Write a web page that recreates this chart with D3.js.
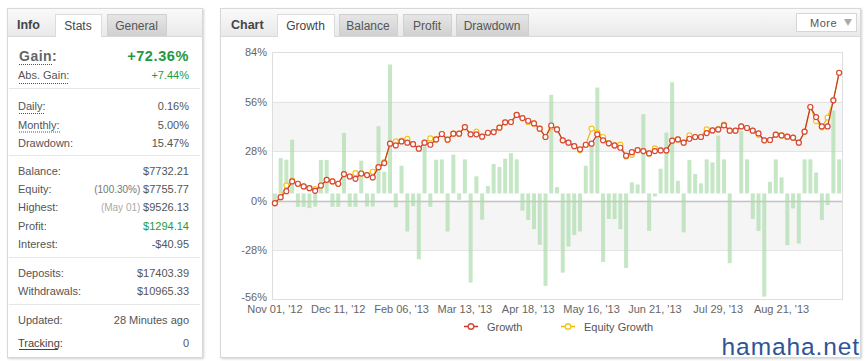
<!DOCTYPE html>
<html><head><meta charset="utf-8">
<script src="https://cdn.jsdelivr.net/npm/d3@7"></script>
<style>
html,body{margin:0;padding:0;background:#fff;}
svg{display:block;font-family:"Liberation Sans",Arial,sans-serif;}
</style></head>
<body>
<svg id="c" width="866" height="361"></svg>
<script>
// ---------- data ----------
const growth = [-1.5,1.9,5.3,10.8,9.5,8.0,7.0,5.5,8.5,11.7,10.8,9.5,15.0,13.6,12.3,15.3,14.4,13.1,18.9,21.2,
32.2,31.2,33.5,32.8,31.9,29.4,32.8,31.6,34.6,37.7,34.5,37.9,37.9,41.6,37.5,37.5,36.2,38.4,38.8,41.3,
44.3,44.5,48.5,46.7,45.2,43.7,40.7,36.0,42.5,40.3,34.1,32.8,30.8,29.0,31.6,32.2,37.5,34.1,32.4,31.2,
29.9,25.4,27.4,28.6,28.0,26.7,28.0,28.4,28.4,33.9,34.6,32.8,35.0,36.0,36.0,38.2,39.7,40.3,42.6,39.6,
39.6,42.0,41.1,39.6,38.0,34.1,34.3,37.3,36.9,36.2,35.6,32.8,39.0,53.0,47.3,42.0,42.0,56.8,72.4];
const equity = [-1.5,1.9,8.6,11.3,9.5,8.0,7.0,6.4,8.5,11.7,10.8,9.5,15.0,13.6,15.5,15.3,14.4,16.3,18.9,21.8,
32.2,33.5,34.0,34.9,31.9,29.4,32.8,35.2,34.6,37.7,34.5,37.9,37.9,41.6,37.5,39.0,36.2,38.4,38.8,41.3,
44.3,44.5,48.5,46.7,44.5,43.7,40.7,36.0,41.5,40.3,34.1,32.8,30.8,28.6,31.6,40.7,38.5,36.0,32.4,31.2,
31.7,25.0,25.9,28.6,28.0,26.7,29.6,28.4,28.4,33.9,34.6,32.8,36.9,36.0,36.0,40.3,39.7,40.3,43.0,39.6,
39.6,42.0,41.1,39.6,37.2,34.1,34.3,37.3,36.9,36.2,35.6,32.8,39.0,53.0,45.0,41.5,47.0,56.8,72.4];
const daily = [-3.8,20.1,19.1,30.5,-7.6,-7.6,-8.3,-7.4,19.0,19.0,-7.6,-7.6,34.3,-7.6,-7.6,18.6,-7.4,-7.4,38.1,12.3,
73.1,-7.9,15.7,-21.6,-7.2,-37.3,26.7,-7.6,19.1,19.3,-21.6,22.0,-3.6,19.3,-50.5,9.7,-14.9,4.2,16.7,15.0,
19.7,22.9,19.3,-9.8,-15.1,-20.2,-29.1,-52.4,55.9,3.6,-44.9,-30.1,-23.6,-21.6,15.7,27.0,60.0,-38.8,-14.5,-14.5,
-20.2,-42.2,6.3,5.1,44.9,-21.2,-1.7,14.0,34.5,63.0,7.2,-22.1,19.0,11.0,5.7,19.3,17.6,32.8,19.3,-39.5,
0,35.4,19.3,-14.5,-21.2,-58.5,6.6,19.3,9.1,-29.3,-8.5,-28.4,19.3,19.3,11.9,-15.1,-6.6,47.0,19.3];
const xTickLabels = ["Nov 01, '12","Dec 11, '12","Feb 06, '13","Mar 13, '13","Apr 18, '13","May 16, '13","Jun 21, '13","Jul 29, '13","Aug 21, '13"];
const yTicks = [-56,-28,0,28,56,84];
const infoRows1 = [["Daily:","0.16%",true],["Monthly:","5.00%",true],["Drawdown:","15.47%",false]];
const infoRows2 = [["Balance:","","$7732.21"],["Equity:","(100.30%) ","$7755.77"],["Highest:","(May 01) ","$9526.13"],["Profit:","","$1294.14"],["Interest:","","-$40.95"]];
const infoRows3 = [["Deposits:","$17403.39"],["Withdrawals:","$10965.33"]];
const chartTabs = ["Growth","Balance","Profit","Drawdown"];
const infoTabs = ["Stats","General"];

// ---------- drawing ----------
const svg = d3.select("#c");
const defs = svg.append("defs");
const g1 = defs.append("linearGradient").attr("id","hdr").attr("x1",0).attr("y1",0).attr("x2",0).attr("y2",1);
g1.append("stop").attr("offset","0%").attr("stop-color","#fafafa");
g1.append("stop").attr("offset","100%").attr("stop-color","#e9e9e9");
const g2 = defs.append("linearGradient").attr("id","tab").attr("x1",0).attr("y1",0).attr("x2",0).attr("y2",1);
g2.append("stop").attr("offset","0%").attr("stop-color","#e6e6e6");
g2.append("stop").attr("offset","100%").attr("stop-color","#d1d1d1");
const flt = defs.append("filter").attr("id","sh").attr("x","-5%").attr("y","-5%").attr("width","110%").attr("height","110%");
flt.append("feDropShadow").attr("dx",1).attr("dy",1).attr("stdDeviation",1.2).attr("flood-color","#000").attr("flood-opacity",0.18);

function panel(x,y,w,h){
  svg.append("rect").attr("x",x+0.5).attr("y",y+0.5).attr("width",w).attr("height",h)
    .attr("fill","#fff").attr("stroke","#d8d8d8").attr("filter","url(#sh)");
  svg.append("rect").attr("x",x+1).attr("y",y+1).attr("width",w-1).attr("height",27).attr("fill","url(#hdr)");
  svg.append("line").attr("x1",x+1).attr("x2",x+w).attr("y1",y+28.5).attr("y2",y+28.5).attr("stroke","#dadada");
}
function tab(x,w,label,active){
  svg.append("rect").attr("x",x+0.5).attr("y",14.5).attr("width",w).attr("height",active?22:21)
    .attr("fill",active?"#fff":"url(#tab)").attr("stroke",active?"#dcdcdc":"#d0d0d0");
  if(active) svg.append("line").attr("x1",x+1).attr("x2",x+w).attr("y1",36.5).attr("y2",36.5).attr("stroke","#fff").attr("stroke-width",1.5);
  svg.append("text").attr("x",x+w/2).attr("y",30).attr("text-anchor","middle")
    .attr("font-size",12).attr("fill",active?"#444":"#555").text(label);
}

// left panel
panel(7,8,195,349);
svg.append("text").attr("x",17).attr("y",29).attr("font-size",12.5).attr("font-weight","bold").attr("fill","#444").text("Info");
tab(55,46,infoTabs[0],true);
tab(107,59,infoTabs[1],false);

const L = 18, R = 189;
function dotted(x1,x2,y){
  svg.append("line").attr("x1",x1).attr("x2",x2).attr("y1",y+0.5).attr("y2",y+0.5)
    .attr("stroke","#555").attr("stroke-dasharray","1,1");
}
function sep(y){ svg.append("line").attr("x1",9).attr("x2",200).attr("y1",y+0.5).attr("y2",y+0.5).attr("stroke","#e6e6e6"); }
svg.append("text").attr("x",L+1).attr("y",61).attr("font-size",14).attr("font-weight","bold").attr("fill","#666").attr("letter-spacing",0.5).text("Gain:");
dotted(19,53,64);
svg.append("text").attr("x",R).attr("y",61).attr("text-anchor","end").attr("font-size",14.5).attr("font-weight","bold").attr("fill","#1f9a3e").attr("letter-spacing",0.6).text("+72.36%");
svg.append("text").attr("x",L).attr("y",79).attr("font-size",11).attr("fill","#555").text("Abs. Gain:");
dotted(19,69,83);
svg.append("text").attr("x",R).attr("y",79).attr("text-anchor","end").attr("font-size",11).attr("fill","#1f9a3e").text("+7.44%");
sep(88);
infoRows1.forEach((r,i)=>{
  const y = 110 + i*18.5;
  svg.append("text").attr("x",L).attr("y",y).attr("font-size",11).attr("fill","#555").text(r[0]);
  svg.append("text").attr("x",R).attr("y",y).attr("text-anchor","end").attr("font-size",11).attr("fill","#555").text(r[1]);
  if(r[2]) dotted(19, i===0?45:60, y+3);
});
sep(155);
infoRows2.forEach((r,i)=>{
  const y = 175 + i*18.2;
  svg.append("text").attr("x",L).attr("y",y).attr("font-size",11).attr("fill","#555").text(r[0]);
  const t = svg.append("text").attr("x",R).attr("y",y).attr("text-anchor","end").attr("font-size",11);
  if(r[1]) t.append("tspan").attr("fill",i===2?"#aaa":"#777").attr("font-size",10).text(r[1]);
  t.append("tspan").attr("fill",r[0]==="Profit:"?"#1f9a3e":"#555").text(r[2]);
});
sep(257);
infoRows3.forEach((r,i)=>{
  const y = 277 + i*17.5;
  svg.append("text").attr("x",L).attr("y",y).attr("font-size",11).attr("fill","#555").text(r[0]);
  svg.append("text").attr("x",R).attr("y",y).attr("text-anchor","end").attr("font-size",11).attr("fill","#555").text(r[1]);
});
sep(304);
svg.append("text").attr("x",L).attr("y",324).attr("font-size",11).attr("fill","#555").text("Updated:");
svg.append("text").attr("x",R).attr("y",324).attr("text-anchor","end").attr("font-size",11).attr("fill","#555").text("28 Minutes ago");
svg.append("text").attr("x",L).attr("y",347).attr("font-size",11).attr("fill","#444").text("Tracking:");
svg.append("line").attr("x1",19).attr("x2",58).attr("y1",349.5).attr("y2",349.5).attr("stroke","#444");
svg.append("text").attr("x",R).attr("y",347).attr("text-anchor","end").attr("font-size",11).attr("fill","#555").text("0");

// right panel
panel(220,8,640,349);
svg.append("text").attr("x",231).attr("y",29).attr("font-size",12.5).attr("font-weight","bold").attr("fill","#444").text("Chart");
const tabX = [277,339,403,456], tabW=[57,58,48,72];
chartTabs.forEach((t,i)=>tab(tabX[i],tabW[i],t,i===0));
// More button
svg.append("rect").attr("x",796.5).attr("y",13.5).attr("width",60).attr("height",18).attr("fill","#fff").attr("stroke","#d6d6d6");
svg.append("text").attr("x",810).attr("y",26.5).attr("font-size",11).attr("fill","#555").attr("letter-spacing",0.5).text("More");
svg.append("path").attr("d","M844,19 L852,19 L848,26 Z").attr("fill","#aaa");

// plot
const x0=272, x1=842, yTop=52.3, yBot=299.3;
const x = d3.scaleBand().domain(d3.range(growth.length)).range([x0,x1]);
const cx = i => x(i)+x.bandwidth()/2;
const y = d3.scaleLinear().domain([-56,84]).range([yBot,yTop]);
const yb = d3.scaleLinear().domain([-60,80]).range([yBot,yTop]);
const plot = svg.append("g");
// bands
[[56,28],[0,-28]].forEach(b=>{
  plot.append("rect").attr("x",x0).attr("width",x1-x0).attr("y",y(b[0])).attr("height",y(b[1])-y(b[0])).attr("fill","#f5f5f5");
});
yTicks.forEach(v=>{
  plot.append("line").attr("x1",x0).attr("x2",x1).attr("y1",Math.round(y(v))+0.5).attr("y2",Math.round(y(v))+0.5)
    .attr("stroke",v===0?"#c4c4c4":"#e4e4e4").attr("stroke-width",v===0?1.5:1);
});
plot.append("rect").attr("x",x0+0.5).attr("y",Math.round(yTop)+0.5).attr("width",x1-x0).attr("height",Math.round(yBot)-Math.round(yTop))
  .attr("fill","none").attr("stroke","#dedede");
// bars
const bw = 4;
plot.selectAll("rect.bar").data(daily).join("rect").attr("class","bar")
  .attr("x",(d,i)=>cx(i)-bw/2).attr("width",bw)
  .attr("y",d=>Math.min(yb(d),yb(0))).attr("height",d=>Math.abs(yb(d)-yb(0)))
  .attr("fill","#a9dba9").attr("fill-opacity",0.68);
// lines
const line = d3.line().x((d,i)=>cx(i)).y(d=>y(d));
plot.append("path").datum(equity).attr("d",line).attr("fill","none").attr("stroke","#f4b400").attr("stroke-width",1.2);
plot.selectAll("circle.eq").data(equity).join("circle").attr("class","eq")
  .attr("cx",(d,i)=>cx(i)).attr("cy",d=>y(d)).attr("r",2.5).attr("fill","#fff").attr("stroke","#f5c518").attr("stroke-width",1.2);
plot.append("path").datum(growth).attr("d",line).attr("fill","none").attr("stroke","#c0392b").attr("stroke-width",1.2);
plot.selectAll("circle.gr").data(growth).join("circle").attr("class","gr")
  .attr("cx",(d,i)=>cx(i)).attr("cy",d=>y(d)).attr("r",2.5).attr("fill","#fff").attr("stroke","#d9473a").attr("stroke-width",1.2);

// axes
const ya = svg.append("g").attr("transform",`translate(${x0},0)`)
  .call(d3.axisLeft(y).tickValues(yTicks).tickSize(0).tickPadding(5).tickFormat(d=>d+"%"));
ya.select(".domain").remove();
ya.selectAll("text").attr("font-size",11).attr("fill","#666").attr("font-family","Liberation Sans, Arial, sans-serif")
  .attr("dy",d=>d===-56?"0.1em":"0.32em");
const xTickIdx = xTickLabels.map((_,k)=>k*11);
const xa = svg.append("g").attr("transform",`translate(0,${yBot})`)
  .call(d3.axisBottom(x).tickValues(xTickIdx).tickSize(0).tickPadding(6).tickFormat(i=>xTickLabels[i/11]));
xa.select(".domain").remove();
xa.selectAll("text").attr("font-size",11).attr("fill","#666").attr("font-family","Liberation Sans, Arial, sans-serif");

// legend
function legItem(lx, color, stroke, label){
  svg.append("line").attr("x1",lx).attr("x2",lx+14).attr("y1",326.5).attr("y2",326.5).attr("stroke",color).attr("stroke-width",1.5);
  svg.append("circle").attr("cx",lx+7).attr("cy",326.5).attr("r",2.8).attr("fill","#fff").attr("stroke",stroke).attr("stroke-width",1.4);
  svg.append("text").attr("x",lx+23).attr("y",330.5).attr("font-size",11).attr("fill","#555").text(label);
}
legItem(464,"#c0392b","#d9473a","Growth");
legItem(561,"#f4b400","#f5c518","Equity Growth");

// watermark
svg.append("text").attr("x",860).attr("y",355).attr("text-anchor","end").attr("font-size",24.5).attr("letter-spacing",0.9)
  .attr("font-family","Liberation Sans, Arial, sans-serif").attr("fill","#2e5597").text("hamaha.net");
</script>
</body></html>
